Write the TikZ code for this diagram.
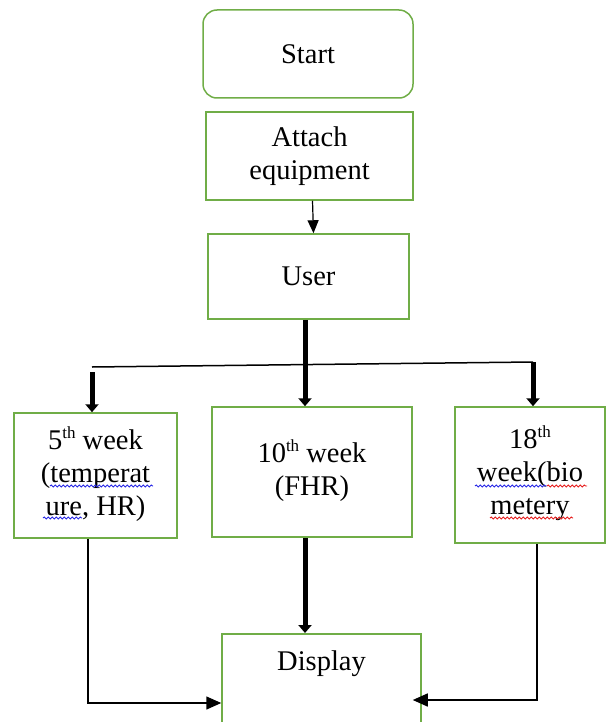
\documentclass[tikz,border=0pt]{standalone}
\usepackage{fontspec}
\setmainfont{Liberation Serif}
\usetikzlibrary{arrows.meta,decorations.pathmorphing}
\definecolor{boxgreen}{RGB}{112,173,71}
\definecolor{spellblue}{RGB}{40,40,230}
\definecolor{spellred}{RGB}{230,30,30}
% raised ordinal suffix (5th, 10th, ...), kept out of the line height
\newcommand{\ordsup}[1]{\raisebox{0.38em}[0pt][0pt]{\fontsize{17}{17}\selectfont #1}}
\begin{document}
\begin{tikzpicture}[x=1pt,y=-1pt,
  txt/.style={font=\fontsize{28.5}{33}\selectfont, align=center, inner sep=0pt},
  stepbox/.style={txt, draw=boxgreen, line width=1.5pt},
  thinarrow/.style={line width=1.2pt, -{Triangle[length=13pt,width=11pt]}},
  sidearrow/.style={line width=1.5pt, -{Triangle[length=15pt,width=13pt]}},
  thickarrow/.style={line width=5pt, -{Triangle[length=8pt,width=13pt]}},
  thinline/.style={line width=1.5pt},
  spellwave/.style={line width=0.9pt, decorate,
    decoration={snake, amplitude=1pt, segment length=4pt}}]
\useasboundingbox (0,0) rectangle (607,722);
\clip (0,0) rectangle (607,722);

% process boxes
\node[stepbox, rounded corners=14pt, minimum width=210, minimum height=88] (start) at (308,54) {Start};
\node[stepbox, minimum width=207, minimum height=88] (attach) at (309.5,156) {Attach\\equipment};
\node[stepbox, minimum width=201, minimum height=85] (user) at (308.5,276.5) {User};
\node[stepbox, minimum width=163, minimum height=125] (w5) at (95.5,475.5) {5\ordsup{th} week\\(temperat\\ure, HR)};
\node[stepbox, minimum width=200, minimum height=130] (w10) at (312,472) {10\ordsup{th} week\\(FHR)};
\node[stepbox, minimum width=150, minimum height=136] (w18) at (530,475) {18\ordsup{th}\\week(bio\\metery};
\node[stepbox, minimum width=199, minimum height=137, anchor=north] (disp) at (321.5,633) {};
\node[txt, anchor=base] (disptitle) at (321.5,670) {Display};

% spell-check underlines
\draw[spellwave, spellblue] (50,486) -- (153,486);
\draw[spellwave, spellblue] (43,518) -- (82,518);
\draw[spellwave, spellblue] (475,486) -- (547,486);
\draw[spellwave, spellred] (547,486) -- (587,486);
\draw[spellwave, spellred] (490,518) -- (573,518);

% connectors
\coordinate (hub) at (305,364);
\coordinate (hl) at (92,367);
\coordinate (hr) at (533,362);
\coordinate (lb) at (88,703);
\coordinate (rb) at (537,700);

\draw[thinarrow] ([xshift=3pt]attach.south) -- ([xshift=5pt]user.north);
\draw[thickarrow] (user.south -| hub) -- (w10.north -| hub);
\draw[thinline] (hl) -- (hr);
\draw[thickarrow] ([yshift=-5pt]hl) -- (hl |- w5.north);
\draw[thickarrow] (hr) -- (hr |- w18.north);
\draw[thickarrow] (w10.south -| hub) -- (disp.north -| hub);
\draw[sidearrow] (w5.south -| lb) |- (disp.west |- lb);
\draw[sidearrow] (w18.south -| rb) |- ([xshift=-9pt]disp.east |- rb);
\end{tikzpicture}
\end{document}
